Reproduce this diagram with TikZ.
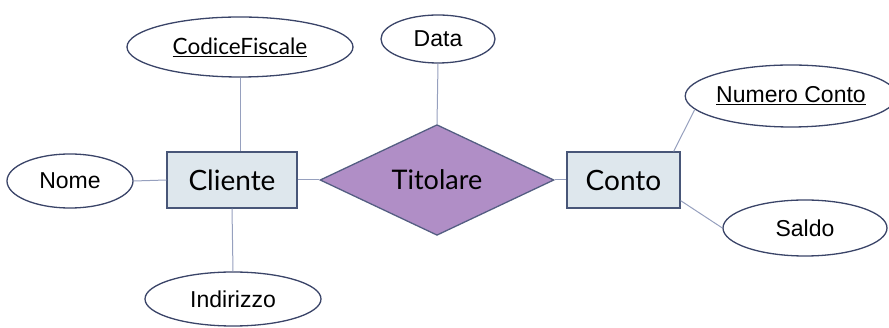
\documentclass[tikz,border=0pt]{standalone}
\usepackage{fontspec}
\setmainfont{Liberation Sans}
\newfontfamily\gill{Lato}
\usetikzlibrary{shapes.geometric,calc}
\definecolor{entfill}{RGB}{222,231,237}
\definecolor{entdraw}{RGB}{72,86,120}
\definecolor{relfill}{RGB}{176,142,198}
\definecolor{reldraw}{RGB}{84,94,130}
\definecolor{attdraw}{RGB}{58,68,104}
\definecolor{linkcol}{RGB}{150,160,190}
\tikzset{
  entity/.style={draw=entdraw,fill=entfill,line width=1.3pt,rectangle,inner sep=0pt,minimum width=#1,minimum height=56pt,font=\gill\fontsize{28}{32}\selectfont},
  relation/.style={draw=reldraw,fill=relfill,line width=1.3pt,diamond,inner sep=0pt,minimum width=234pt,minimum height=104pt,font=\gill\fontsize{27}{31}\selectfont},
  attr/.style={draw=attdraw,fill=white,line width=1.3pt,ellipse,inner sep=0pt,font=\fontsize{23}{27}\selectfont},
  keyattr/.style={attr,font=\gill\fontsize{22.5}{27}\selectfont},
  link/.style={draw=linkcol,line width=1pt}
}
\begin{document}
\begin{tikzpicture}[x=1pt,y=-1pt]
\useasboundingbox (0,0) rectangle (889,328);
% nodes
\node[entity=130pt] (cliente) at (232,180) {Cliente};
\node[entity=113pt] (conto) at (623.5,180) {Conto};
\node[relation] (tit) at (437,180) {Titolare};
\node[keyattr,minimum width=226pt,minimum height=60pt] (cf) at (240,47) {\underline{CodiceFiscale}};
\node[attr,minimum width=114pt,minimum height=48pt] (data) at (438,39) {Data};
\node[attr,minimum width=126pt,minimum height=54pt] (nome) at (70,181) {Nome};
\node[attr,minimum width=176pt,minimum height=54pt] (ind) at (233,299) {Indirizzo};
\node[attr,minimum width=196pt,minimum height=62pt] (nc) at (791,96) {\underline{Numero Conto}};
\node[attr,minimum width=164pt,minimum height=56pt] (saldo) at (805,228) {Saldo};
% connectors
\draw[link] (nome.east) -- (cliente.west);
\draw[link] (cf.south) -- (cf.south |- cliente.north);
\draw[link] (cliente.south) -- (ind.north);
\draw[link] (cliente.east) -- (tit.west);
\draw[link] (tit.east) -- (conto.west);
\draw[link] (data.south) -- (tit.north);
\draw[link] ($(conto.north east)+(-7,0)$) -- (nc.188);
\draw[link] ($(conto.south east)+(0,-8)$) -- (saldo.west);
\end{tikzpicture}
\end{document}
